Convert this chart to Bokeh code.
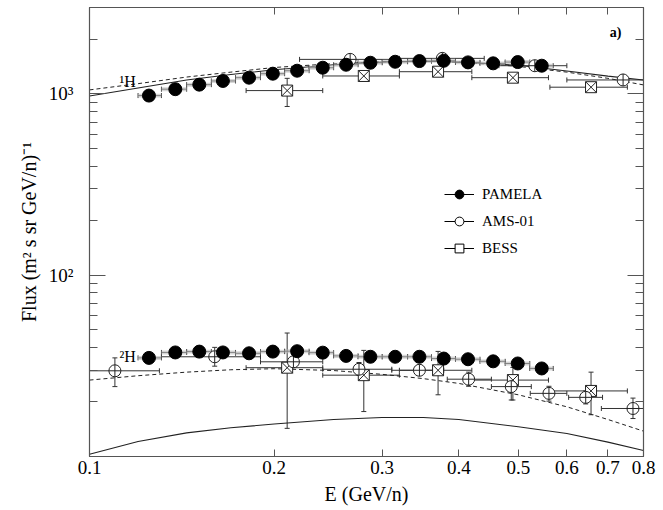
from bokeh.plotting import figure
from bokeh.models import (FixedTicker, LogAxis, CustomJSTickFormatter, PrintfTickFormatter,
                          Whisker, ColumnDataSource, Legend, LegendItem, TeeHead, Label)
from bokeh.embed import file_html
from bokeh.resources import INLINE

FONT = "Liberation Serif"

# ---------------- data ----------------
# PAMELA (filled circles)
pamela_e = [0.125, 0.138, 0.151, 0.165, 0.182, 0.199, 0.218, 0.240, 0.262, 0.287,
            0.315, 0.345, 0.378, 0.414, 0.455, 0.499, 0.546]
pamela_lo = [0.120, 0.131, 0.144, 0.158, 0.173, 0.190, 0.208, 0.228, 0.250, 0.274,
             0.300, 0.330, 0.361, 0.395, 0.433, 0.476, 0.522]
pamela_hi = [0.131, 0.144, 0.158, 0.173, 0.190, 0.208, 0.228, 0.250, 0.274, 0.300,
             0.330, 0.361, 0.395, 0.433, 0.476, 0.522, 0.570]
pamela_p = [980, 1063, 1126, 1180, 1230, 1294, 1344, 1396, 1450, 1487,
            1506, 1519, 1525, 1494, 1476, 1500, 1432]
pamela_d = [35.0, 37.5, 37.9, 37.5, 37.1, 37.9, 38.1, 37.4, 35.9, 35.5,
            35.5, 35.5, 34.7, 34.4, 33.5, 32.6, 30.6]

# AMS-01 (open circles)
ams_p_e = [0.266, 0.376, 0.532, 0.741]
ams_p_lo = [0.220, 0.320, 0.465, 0.600]
ams_p_hi = [0.310, 0.440, 0.600, 0.800]
ams_p = [1552, 1572, 1432, 1195]
ams_p_elo = [1490, 1510, 1375, 1140]
ams_p_ehi = [1615, 1635, 1490, 1250]

ams_d_e = [0.110, 0.160, 0.215, 0.275, 0.345, 0.415, 0.487, 0.561, 0.644, 0.769]
ams_d_lo = [0.090, 0.131, 0.190, 0.240, 0.311, 0.383, 0.452, 0.523, 0.604, 0.683]
ams_d_hi = [0.130, 0.190, 0.240, 0.311, 0.378, 0.452, 0.525, 0.600, 0.686, 0.800]
ams_d = [29.7, 35.5, 33.3, 30.3, 29.9, 26.7, 24.3, 22.3, 21.2, 18.4]
ams_d_elo = [24.3, 31.5, 31.5, 28.0, 28.0, 24.4, 20.5, 20.2, 19.5, 16.2]
ams_d_ehi = [35.0, 40.0, 35.5, 33.0, 32.0, 29.2, 27.1, 24.4, 23.0, 21.0]

# BESS (open squares)
bess_e = [0.210, 0.280, 0.370, 0.490, 0.657]
bess_lo = [0.180, 0.240, 0.320, 0.420, 0.563]
bess_hi = [0.240, 0.320, 0.420, 0.560, 0.753]
bess_p = [1044, 1257, 1327, 1230, 1090]
bess_p_elo = [853, 1200, 1270, 1180, 1045]
bess_p_ehi = [1220, 1315, 1385, 1280, 1135]
bess_d = [30.9, 28.1, 29.9, 26.4, 23.0]
bess_d_elo = [14.3, 17.7, 21.9, 20.5, 17.0]
bess_d_ehi = [48.0, 38.5, 38.0, 31.0, 29.2]

# model curves
model_e = [0.10, 0.12, 0.144, 0.17, 0.20, 0.25, 0.30, 0.35, 0.40, 0.50, 0.60, 0.70, 0.80]
h1_solid = [975, 1080, 1195, 1280, 1360, 1450, 1500, 1515, 1500, 1440, 1340, 1255, 1195]
h1_dashed = [1053, 1140, 1240, 1320, 1400, 1470, 1505, 1515, 1500, 1420, 1320, 1220, 1122]
h2_solid = [10.3, 12.1, 13.5, 14.4, 15.1, 16.0, 16.4, 16.4, 16.0, 14.6, 13.4, 12.0, 10.8]
h2_dashed = [26.4, 27.9, 29.2, 30.1, 30.5, 29.8, 28.4, 26.9, 25.3, 21.9, 18.8, 16.0, 13.8]

x_ticks = [0.1, 0.2, 0.3, 0.4, 0.5, 0.6, 0.7, 0.8]
y_major = [100, 1000]
y_minor = [20, 30, 40, 50, 60, 70, 80, 90, 200, 300, 400, 500, 600, 700, 800, 900, 2000]

# ---------------- figure ----------------
p = figure(width=663, height=510, x_axis_type="log", y_axis_type="log",
           x_range=(0.1, 0.8), y_range=(10, 3000),
           output_backend="svg", toolbar_location=None,
           min_border_left=89, min_border_right=20, min_border_top=7, min_border_bottom=54)
p.xgrid.visible = False
p.ygrid.visible = False
p.outline_line_color = "#555555"
p.outline_line_width = 1.2
p.background_fill_color = "white"
p.border_fill_color = "white"

xt = FixedTicker(ticks=x_ticks, minor_ticks=[])
yt = FixedTicker(ticks=y_major, minor_ticks=y_minor)
yfmt = CustomJSTickFormatter(code="return tick > 500 ? '10\u00b3' : '10\u00b2';")


def style_x(ax, labels=True):
    ax.ticker = xt
    ax.formatter = PrintfTickFormatter(format="%.1f")
    ax.major_tick_in = 7
    ax.major_tick_out = 0
    ax.minor_tick_in = 0
    ax.minor_tick_out = 0
    ax.axis_line_color = "#555555"
    ax.major_tick_line_color = "#555555"
    ax.major_label_text_font = FONT
    ax.major_label_text_color = "black"
    ax.major_label_text_font_size = "19px" if labels else "0px"
    ax.major_label_standoff = 4 if labels else 0
    if not labels:
        ax.major_label_text_alpha = 0


def style_y(ax, labels=True):
    ax.ticker = yt
    ax.formatter = yfmt
    ax.major_tick_in = 16
    ax.major_tick_out = 0
    ax.minor_tick_in = 8
    ax.minor_tick_out = 0
    ax.axis_line_color = "#555555"
    ax.major_tick_line_color = "#555555"
    ax.minor_tick_line_color = "#555555"
    ax.major_label_text_font = FONT
    ax.major_label_text_color = "black"
    ax.major_label_text_font_size = "19px" if labels else "0px"
    ax.major_label_standoff = 16 if labels else 0
    if not labels:
        ax.major_label_text_alpha = 0


style_x(p.xaxis[0])
style_y(p.yaxis[0])
p.xaxis[0].axis_label = "E (GeV/n)"
p.xaxis[0].axis_label_text_font = FONT
p.xaxis[0].axis_label_text_font_style = "normal"
p.xaxis[0].axis_label_text_font_size = "20px"
p.xaxis[0].axis_label_text_color = "black"
p.xaxis[0].axis_label_standoff = 6
p.yaxis[0].axis_label = "Flux (m\u00b2 s sr GeV/n)\u207b\u00b9"
p.yaxis[0].axis_label_text_font = FONT
p.yaxis[0].axis_label_text_font_style = "normal"
p.yaxis[0].axis_label_text_font_size = "20px"
p.yaxis[0].axis_label_text_color = "black"
p.yaxis[0].axis_label_standoff = 6

top = LogAxis()
style_x(top, labels=False)
p.add_layout(top, "above")
right = LogAxis()
style_y(right, labels=False)
p.add_layout(right, "right")

# ---------------- curves ----------------
curve_col = "#222222"
p.line(model_e, h1_solid, line_color=curve_col, line_width=1.1)
p.line(model_e, h1_dashed, line_color=curve_col, line_width=1.0, line_dash="4 3")
p.line(model_e, h2_solid, line_color=curve_col, line_width=1.1)
p.line(model_e, h2_dashed, line_color=curve_col, line_width=1.0, line_dash="4 3")

# ---------------- PAMELA systematic bands ----------------
p.quad(left=pamela_lo, right=pamela_hi,
       bottom=[v * 0.975 for v in pamela_p], top=[v * 1.025 for v in pamela_p],
       fill_color="#bbbbbb", fill_alpha=0.6, line_color=None)
p.quad(left=pamela_lo, right=pamela_hi,
       bottom=[v * 0.975 for v in pamela_d], top=[v * 1.025 for v in pamela_d],
       fill_color="#bbbbbb", fill_alpha=0.6, line_color=None)


def errbars(e, lo, hi, y, ylo=None, yhi=None, head=5):
    s = ColumnDataSource(dict(e=e, lo=lo, hi=hi, y=y))
    w = Whisker(source=s, base="y", lower="lo", upper="hi", dimension="width",
                line_color="#333333", line_width=1,
                upper_head=TeeHead(size=head, line_color="#333333", line_width=1),
                lower_head=TeeHead(size=head, line_color="#333333", line_width=1))
    p.add_layout(w)
    if ylo is not None:
        s2 = ColumnDataSource(dict(e=e, lo=ylo, hi=yhi))
        w2 = Whisker(source=s2, base="e", lower="lo", upper="hi", dimension="height",
                     line_color="#333333", line_width=1,
                     upper_head=TeeHead(size=head, line_color="#333333", line_width=1),
                     lower_head=TeeHead(size=head, line_color="#333333", line_width=1))
        p.add_layout(w2)


errbars(pamela_e, pamela_lo, pamela_hi, pamela_p)
errbars(pamela_e, pamela_lo, pamela_hi, pamela_d)
errbars(ams_p_e, ams_p_lo, ams_p_hi, ams_p, ams_p_elo, ams_p_ehi)
errbars(ams_d_e, ams_d_lo, ams_d_hi, ams_d, ams_d_elo, ams_d_ehi)
errbars(bess_e, bess_lo, bess_hi, bess_p, bess_p_elo, bess_p_ehi)
errbars(bess_e, bess_lo, bess_hi, bess_d, bess_d_elo, bess_d_ehi)

# ---------------- markers ----------------
bess_r = p.scatter(bess_e + bess_e, bess_p + bess_d, marker="square_x", size=11,
                   fill_color="white", line_color="#222222", line_width=1)
ams_r = p.scatter(ams_p_e + ams_d_e, ams_p + ams_d, marker="circle_cross", size=12,
                  fill_color="white", line_color="#222222", line_width=1)
pam_r = p.scatter(pamela_e + pamela_e, pamela_p + pamela_d, marker="circle", size=13,
                  fill_color="black", line_color="black")

# ---------------- legend ----------------
nan = float("nan")
leg_line = p.line([0.3, 0.4], [nan, nan], line_color="black", line_width=1)
leg_pam = p.scatter([0.3], [nan], marker="circle", size=10, fill_color="black", line_color="black")
leg_ams = p.scatter([0.3], [nan], marker="circle", size=10, fill_color="white", line_color="black")
leg_bess = p.scatter([0.3], [nan], marker="square", size=10, fill_color="white", line_color="black")
legend = Legend(items=[
    LegendItem(label="PAMELA", renderers=[leg_line, leg_pam]),
    LegendItem(label="AMS-01", renderers=[leg_line, leg_ams]),
    LegendItem(label="BESS", renderers=[leg_line, leg_bess]),
], location=(355, 197))
legend.background_fill_alpha = 0
legend.border_line_alpha = 0
legend.label_text_font = FONT
legend.label_text_font_size = "15px"
legend.label_text_color = "black"
legend.glyph_width = 30
legend.glyph_height = 22
legend.label_height = 22
legend.spacing = 5
legend.padding = 0
legend.margin = 0
legend.label_standoff = 8
p.add_layout(legend)

# ---------------- annotations ----------------
p.add_layout(Label(x=0.1119, y=1173, text="\u00b9H", text_font=FONT, text_font_size="16px",
                   text_color="black", text_baseline="middle", text_align="left"))
p.add_layout(Label(x=0.1119, y=35.4, text="\u00b2H", text_font=FONT, text_font_size="16px",
                   text_color="black", text_baseline="middle", text_align="left"))
p.add_layout(Label(x=0.7046, y=2192, text="a)", text_font=FONT, text_font_size="14px",
                   text_color="black", text_font_style="bold", text_baseline="middle",
                   text_align="left"))

open("out.html", "w").write(file_html(p, INLINE))
